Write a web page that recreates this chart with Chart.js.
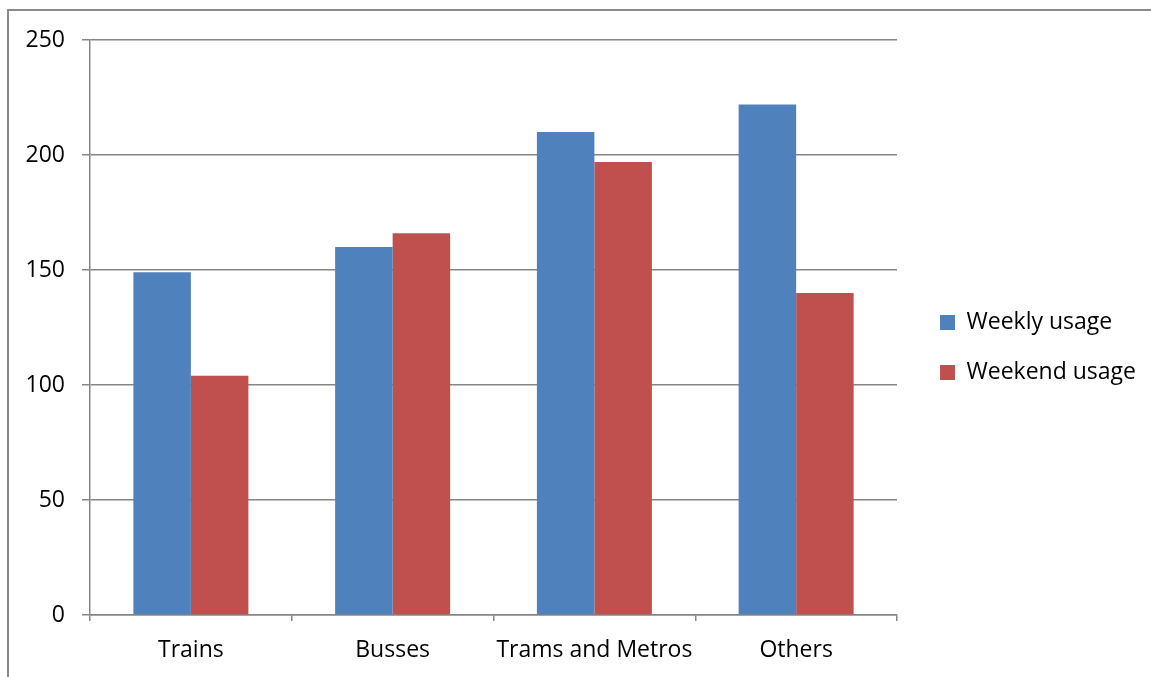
<!DOCTYPE html>
<html>
<head>
<meta charset="utf-8">
<script src="https://cdn.jsdelivr.net/npm/chart.js@4/dist/chart.umd.min.js"></script>
<style>
  html, body { margin: 0; padding: 0; background: #fff; }
  #wrap { position: relative; width: 1151px; height: 677px; overflow: hidden; }
  #frame { position: absolute; left: 7px; top: 9px; width: 1200px; height: 720px;
           border-left: 2px solid #8a8a8a; border-top: 2px solid #8a8a8a; pointer-events: none; }
  canvas { position: absolute; left: 0; top: 0; }
</style>
</head>
<body>
<div id="wrap">
  <canvas id="c" width="1151" height="677"></canvas>
  <div id="frame"></div>
</div>
<script>
const categories = ['Trains', 'Busses', 'Trams and Metros', 'Others'];
const weeklyUsage = [149, 160, 210, 222];
const weekendUsage = [104, 166, 197, 140];
const seriesNames = ['Weekly usage', 'Weekend usage'];
const yTicks = [0, 50, 100, 150, 200, 250];

const FONT = { family: '"Open Sans", sans-serif', size: 23 };
const GRID = '#868686';

// nudges the right-hand legend away from the plot area
const legendShift = {
  id: 'legendShift',
  afterLayout(chart) {
    const lg = chart.legend;
    if (!lg) return;
    lg.left += 16; lg.right += 16;
    lg.top -= 11; lg.bottom -= 11;
  }
};

new Chart(document.getElementById('c'), {
  type: 'bar',
  data: {
    labels: categories,
    datasets: [
      { label: seriesNames[0], data: weeklyUsage, backgroundColor: '#4F81BD' },
      { label: seriesNames[1], data: weekendUsage, backgroundColor: '#C0504D' }
    ]
  },
  options: {
    responsive: false,
    animation: false,
    layout: { padding: { top: 40, right: 21, bottom: 0, left: 0 } },
    datasets: { bar: { categoryPercentage: 0.57, barPercentage: 1.0 } },
    plugins: {
      tooltip: { enabled: false },
      legend: {
        position: 'right',
        align: 'center',
        labels: {
          boxWidth: 15, boxHeight: 15, padding: 27,
          color: '#000', font: FONT
        }
      }
    },
    scales: {
      x: {
        grid: {
          offset: true, drawOnChartArea: false, drawTicks: true,
          tickLength: 6, color: GRID, lineWidth: 1.5
        },
        border: { display: true, color: GRID, width: 1.5 },
        ticks: { color: '#000', font: FONT, padding: 16, maxRotation: 0 },
        afterFit(scale) { scale.height = 62; }
      },
      y: {
        min: 0, max: 250,
        afterBuildTicks(scale) { scale.ticks = yTicks.map(v => ({ value: v })); },
        grid: { color: GRID, lineWidth: 1.5, tickLength: 8 },
        border: { display: true, color: GRID, width: 1.5 },
        ticks: { color: '#000', font: FONT, padding: 17 },
        afterFit(scale) { scale.width = 90; }
      }
    }
  },
  plugins: [legendShift]
});
</script>
</body>
</html>
